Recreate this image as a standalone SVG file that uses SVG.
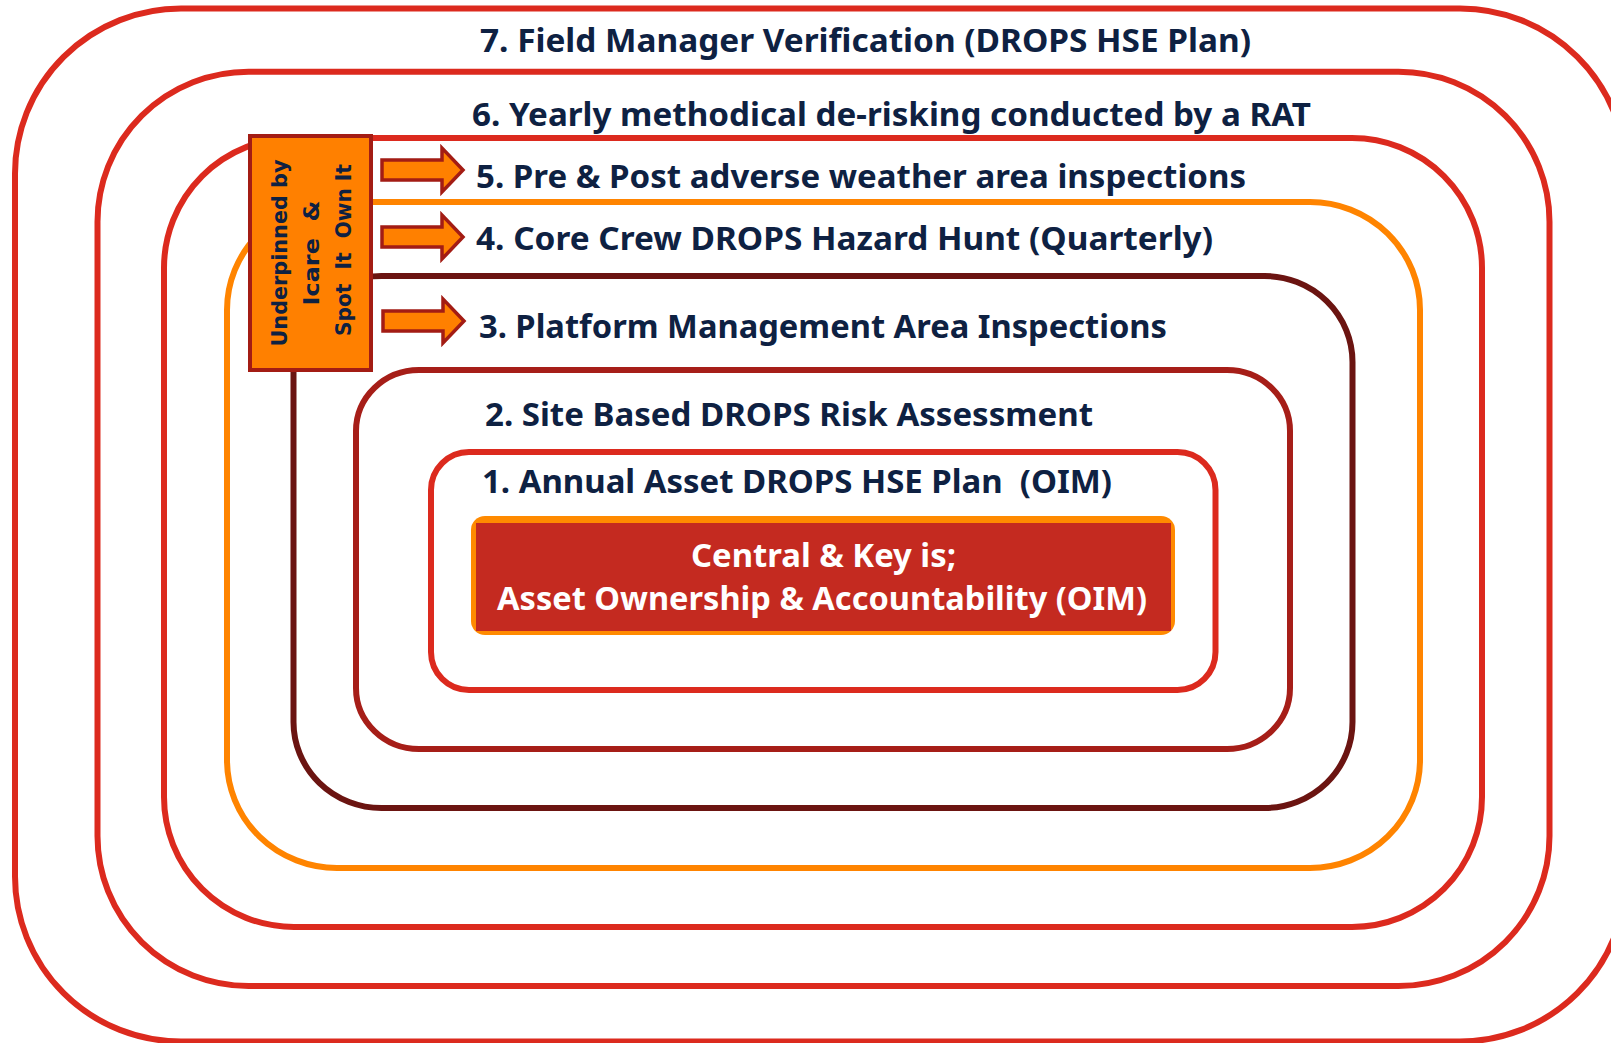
<svg xmlns="http://www.w3.org/2000/svg" width="1611" height="1043" viewBox="0 0 1611 1043">
<style>
.ring{fill:none;stroke-width:6}
.red{stroke:#DC2A1E}
.org{stroke:#FF8400}
.mar{stroke:#6B1411}
.brn{stroke:#A61E18}
.lbl{font-family:"Noto Sans","Source Sans Pro","Liberation Sans",sans-serif;font-weight:700;font-size:32px;fill:#0E2142}
.wht{font-family:"Noto Sans","Source Sans Pro","Liberation Sans",sans-serif;font-weight:700;font-size:32px;fill:#FFFFFF}
.vt{font-family:"DejaVu Sans","Verdana",sans-serif;font-weight:700;font-size:21px;fill:#0E2142;white-space:pre}
.arr{fill:#FF8000;stroke:#A31C14;stroke-width:3.5;stroke-linejoin:miter}
</style>
<rect width="1611" height="1043" fill="#FFFFFF"/>
<g id="ring7"><rect class="ring red" x="15" y="8.5" width="1611" height="1033" rx="166" ry="165"/>
<text class="lbl" x="480" y="52" textLength="771" lengthAdjust="spacingAndGlyphs">7. Field Manager Verification (DROPS HSE Plan)</text></g>
<g id="ring6"><rect class="ring red" x="97.5" y="71.7" width="1452" height="914.3" rx="151" ry="150"/>
<text class="lbl" x="472" y="126" textLength="839" lengthAdjust="spacingAndGlyphs">6. Yearly methodical de-risking conducted by a RAT</text></g>
<g id="ring5"><rect class="ring red" x="164" y="138" width="1318" height="789" rx="130" ry="130"/>
<text class="lbl" x="476" y="188" textLength="770" lengthAdjust="spacingAndGlyphs">5. Pre &amp; Post adverse weather area inspections</text></g>
<g id="ring4"><rect class="ring org" x="227" y="202" width="1193" height="666" rx="110" ry="108"/>
<text class="lbl" x="476" y="250" textLength="737" lengthAdjust="spacingAndGlyphs">4. Core Crew DROPS Hazard Hunt (Quarterly)</text></g>
<g id="ring3"><rect class="ring mar" x="293.5" y="276" width="1059" height="532" rx="88" ry="86"/>
<text class="lbl" x="479" y="338" textLength="688" lengthAdjust="spacingAndGlyphs">3. Platform Management Area Inspections</text></g>
<g id="ring2"><rect class="ring brn" x="356" y="370" width="934" height="379" rx="63" ry="61"/>
<text class="lbl" x="485" y="426" textLength="608" lengthAdjust="spacingAndGlyphs">2. Site Based DROPS Risk Assessment</text></g>
<g id="ring1"><rect class="ring red" x="431" y="452" width="784.5" height="238" rx="38" ry="38"/>
<text class="lbl" x="482" y="493" textLength="630" lengthAdjust="spacingAndGlyphs" style="white-space:pre">1. Annual Asset DROPS HSE Plan  (OIM)</text></g>
<g id="core">
<rect x="471" y="516" width="704" height="119" rx="14" ry="14" fill="#FF8A00"/>
<rect x="476" y="523" width="695" height="108" fill="#C42A20"/>
<text class="wht" x="691" y="567" textLength="265" lengthAdjust="spacingAndGlyphs">Central &amp; Key is;</text>
<text class="wht" x="497" y="610" textLength="650" lengthAdjust="spacingAndGlyphs">Asset Ownership &amp; Accountability (OIM)</text>
</g>
<g id="connectors">
<path class="arr" d="M382,160 H442 V148 L463,170 L442,192 V180 H382 Z"/>
<path class="arr" d="M382,227 H442 V215 L463,237 L442,259 V247 H382 Z"/>
<path class="arr" d="M383,311 H443 V299 L464,321 L443,343 V331 H383 Z"/>
</g>
<g id="underpinned">
<rect x="250" y="136" width="121" height="234" fill="#FF8000" stroke="#A31C14" stroke-width="4"/>
<text class="vt" transform="translate(287,253) rotate(-90)" text-anchor="middle" textLength="187" lengthAdjust="spacingAndGlyphs">Underpinned by</text>
<text class="vt" transform="translate(319,253) rotate(-90)" text-anchor="middle" textLength="105" lengthAdjust="spacingAndGlyphs">Icare  &amp;</text>
<text class="vt" transform="translate(351,250) rotate(-90)" text-anchor="middle" textLength="172" lengthAdjust="spacingAndGlyphs">Spot  It  Own It</text>
</g>
</svg>
